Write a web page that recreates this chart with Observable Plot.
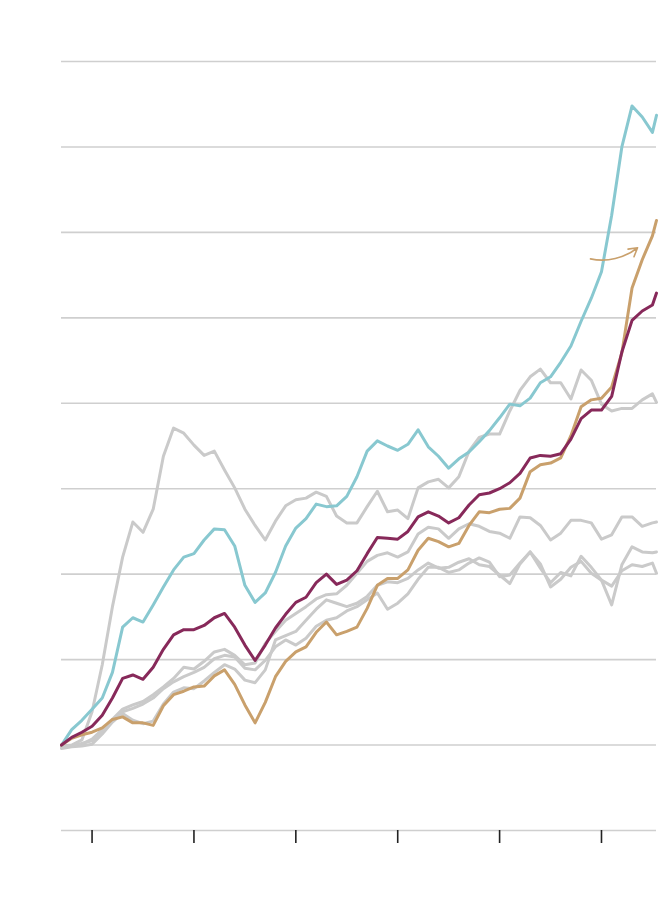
<!DOCTYPE html>
<html>
<head>
<meta charset="utf-8">
<script src="https://cdn.jsdelivr.net/npm/d3@7"></script>
<script src="https://cdn.jsdelivr.net/npm/@observablehq/plot@0.6"></script>
<style>
  html, body { margin: 0; padding: 0; background: #fff; }
  #chart svg { display: block; }
</style>
</head>
<body>
<div id="chart"></div>
<script>
// x positions: half-year steps, plus the final observation
const years = d3.range(59).map(i => 1998.5 + i * 0.5).concat([2027.7]);
const xTicks = [2000, 2005, 2010, 2015, 2020, 2025];
const gridValues = [-1, 0, 1, 2, 3, 4, 5, 6, 7, 8];

const tealSeries = [0, 0.18, 0.29, 0.42, 0.55, 0.85, 1.38, 1.49, 1.44, 1.64,
  1.85, 2.05, 2.20, 2.24, 2.40, 2.53, 2.52, 2.33, 1.87, 1.67,
  1.78, 2.02, 2.33, 2.54, 2.65, 2.82, 2.79, 2.80, 2.91, 3.14,
  3.44, 3.56, 3.50, 3.45, 3.52, 3.69, 3.49, 3.38, 3.24, 3.35,
  3.43, 3.55, 3.68, 3.83, 3.99, 3.97, 4.06, 4.24, 4.31, 4.48,
  4.67, 4.96, 5.23, 5.54, 6.20, 7.00, 7.48, 7.35, 7.17, 7.37];

const maroonSeries = [0, 0.09, 0.15, 0.22, 0.35, 0.55, 0.78, 0.82, 0.77, 0.91,
  1.12, 1.29, 1.35, 1.35, 1.40, 1.49, 1.54, 1.38, 1.17, 0.99,
  1.17, 1.37, 1.53, 1.67, 1.73, 1.90, 2.00, 1.88, 1.93, 2.04,
  2.24, 2.43, 2.42, 2.41, 2.50, 2.67, 2.73, 2.68, 2.60, 2.66,
  2.81, 2.93, 2.95, 3.00, 3.07, 3.18, 3.36, 3.39, 3.38, 3.41,
  3.58, 3.82, 3.92, 3.92, 4.08, 4.60, 4.97, 5.08, 5.15, 5.29];

const tanSeries = [0, 0.08, 0.12, 0.15, 0.20, 0.30, 0.33, 0.26, 0.26, 0.23,
  0.46, 0.59, 0.63, 0.68, 0.69, 0.81, 0.88, 0.71, 0.47, 0.26,
  0.50, 0.80, 0.98, 1.09, 1.15, 1.32, 1.44, 1.29, 1.33, 1.38,
  1.60, 1.87, 1.95, 1.95, 2.05, 2.28, 2.42, 2.38, 2.32, 2.36,
  2.57, 2.73, 2.72, 2.76, 2.77, 2.89, 3.20, 3.28, 3.30, 3.36,
  3.62, 3.96, 4.04, 4.06, 4.19, 4.59, 5.35, 5.68, 5.96, 6.14];

const grey1 = [-0.01, 0, 0.06, 0.39, 0.94, 1.62, 2.20, 2.61, 2.49, 2.76,
  3.38, 3.71, 3.65, 3.51, 3.39, 3.44, 3.22, 3.01, 2.76, 2.57,
  2.40, 2.62, 2.80, 2.87, 2.89, 2.96, 2.91, 2.68, 2.60, 2.60,
  2.79, 2.97, 2.73, 2.75, 2.65, 3.01, 3.08, 3.11, 3.01, 3.14,
  3.44, 3.60, 3.64, 3.64, 3.91, 4.15, 4.31, 4.40, 4.24, 4.24,
  4.05, 4.39, 4.27, 3.99, 3.91, 3.94, 3.94, 4.04, 4.11, 4.01];

const grey2 = [-0.02, -0.01, 0.01, 0.07, 0.18, 0.30, 0.42, 0.47, 0.51, 0.59,
  0.68, 0.78, 0.91, 0.89, 0.98, 1.09, 1.12, 1.05, 0.94, 0.96,
  1.19, 1.33, 1.46, 1.54, 1.62, 1.71, 1.76, 1.77, 1.87, 2.01,
  2.15, 2.22, 2.25, 2.20, 2.26, 2.47, 2.55, 2.53, 2.42, 2.53,
  2.59, 2.56, 2.50, 2.48, 2.42, 2.67, 2.66, 2.57, 2.40, 2.48,
  2.63, 2.63, 2.60, 2.41, 2.46, 2.67, 2.67, 2.56, 2.60, 2.61];

const grey3 = [-0.04, -0.02, -0.01, 0.01, 0.13, 0.27, 0.37, 0.29, 0.25, 0.28,
  0.48, 0.62, 0.67, 0.66, 0.75, 0.85, 0.94, 0.89, 0.76, 0.73,
  0.88, 1.23, 1.28, 1.33, 1.46, 1.59, 1.70, 1.66, 1.62, 1.66,
  1.74, 1.87, 1.91, 1.90, 1.95, 2.05, 2.13, 2.07, 2.08, 2.14,
  2.18, 2.11, 2.09, 1.99, 1.89, 2.12, 2.26, 2.07, 1.90, 2.02,
  1.98, 2.21, 2.08, 1.93, 1.64, 2.11, 2.32, 2.26, 2.25, 2.26];

const grey4 = [-0.01, -0.01, 0.02, 0.05, 0.16, 0.29, 0.39, 0.43, 0.48, 0.55,
  0.66, 0.74, 0.80, 0.85, 0.91, 1.01, 1.05, 1.03, 0.90, 0.88,
  0.99, 1.15, 1.23, 1.17, 1.25, 1.39, 1.46, 1.49, 1.57, 1.62,
  1.70, 1.78, 1.59, 1.66, 1.77, 1.94, 2.08, 2.08, 2.02, 2.05,
  2.13, 2.19, 2.14, 1.97, 1.99, 2.13, 2.26, 2.12, 1.85, 1.94,
  2.08, 2.15, 2.01, 1.93, 1.86, 2.04, 2.11, 2.09, 2.13, 2.01];

// annotation arrow (start and end in data units)
const arrowFrom = {year: 2024.46, value: 5.69};
const arrowTo = {year: 2026.77, value: 5.82};

const toRows = (name, vals) => vals.map((v, i) => ({series: name, year: years[i], value: v}));
const greyRows = [
  ...toRows("g1", grey1), ...toRows("g2", grey2),
  ...toRows("g3", grey3), ...toRows("g4", grey4)
];

const chart = Plot.plot({
  width: 670,
  height: 904,
  marginTop: 61,
  marginBottom: 74,
  marginLeft: 61,
  marginRight: 14,
  x: {domain: [1998.5, 2027.7], axis: null},
  y: {domain: [-1, 8], axis: null},
  marks: [
    Plot.ruleY(gridValues, {stroke: "#cfcfcf", strokeWidth: 1.6}),
    Plot.axisX({ticks: xTicks, tickFormat: () => "", tickSize: 13, stroke: "#222", strokeWidth: 1.6}),
    Plot.line(greyRows, {x: "year", y: "value", z: "series", stroke: "#cacaca", strokeWidth: 3, strokeLinejoin: "round", strokeLinecap: "round"}),
    Plot.line(toRows("teal", tealSeries), {x: "year", y: "value", stroke: "#88c8d0", strokeWidth: 3, strokeLinejoin: "round", strokeLinecap: "round"}),
    Plot.line(toRows("tan", tanSeries), {x: "year", y: "value", stroke: "#c9a06c", strokeWidth: 3, strokeLinejoin: "round", strokeLinecap: "round"}),
    Plot.line(toRows("maroon", maroonSeries), {x: "year", y: "value", stroke: "#87295a", strokeWidth: 3, strokeLinejoin: "round", strokeLinecap: "round"}),
    Plot.arrow([{x1: arrowFrom.year, y1: arrowFrom.value, x2: arrowTo.year, y2: arrowTo.value}],
      {x1: "x1", y1: "y1", x2: "x2", y2: "y2", bend: -25, stroke: "#c9a06c", strokeWidth: 1.6, headLength: 9})
  ]
});

document.getElementById("chart").append(chart);
</script>
</body>
</html>
